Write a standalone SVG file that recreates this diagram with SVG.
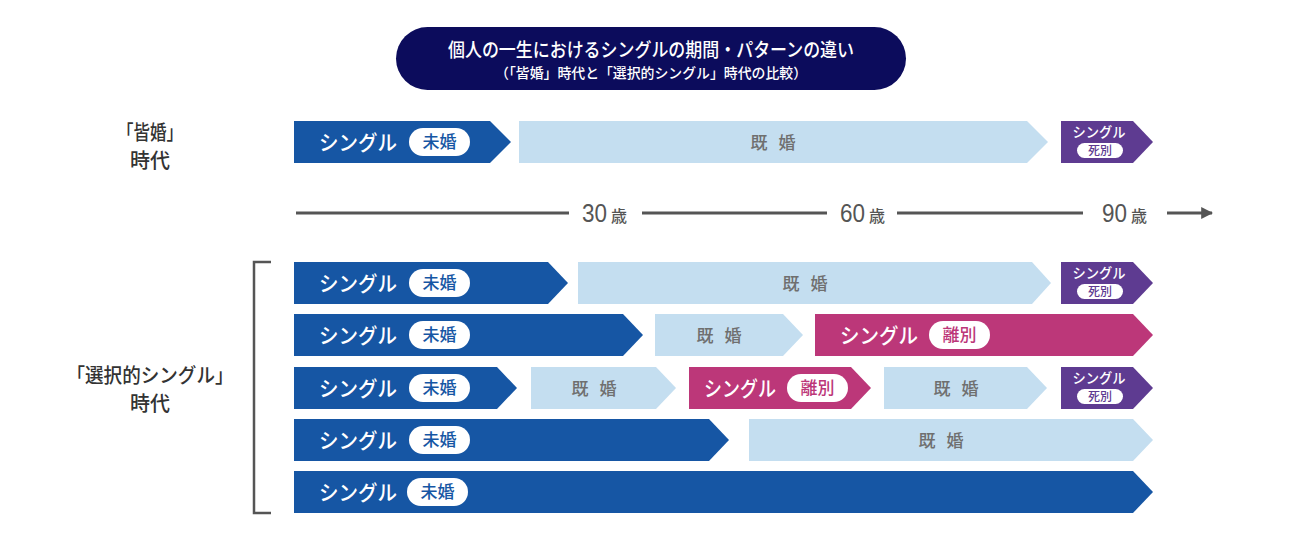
<svg xmlns="http://www.w3.org/2000/svg" width="1300" height="551" viewBox="0 0 1300 551">
<defs>
<style>
text{font-family:"Noto Sans CJK JP","Noto Sans",sans-serif;}
.blue{fill:#1656a4;}
.light{fill:#c4def0;}
.mag{fill:#bc3779;}
.pur{fill:#5e3b91;}
.pill{fill:#ffffff;}
.sg{fill:#ffffff;font-size:21px;font-weight:500;}
.sgs{fill:#ffffff;font-size:14px;font-weight:500;text-anchor:middle;}
.tag{font-size:17px;font-weight:500;text-anchor:middle;}
.tags{font-size:12px;font-weight:500;text-anchor:middle;fill:#5e3b91;}
.kk{fill:#6f6f6f;font-size:17px;font-weight:500;text-anchor:middle;}
.lbl{fill:#333333;font-size:20px;font-weight:500;text-anchor:middle;}
.num{fill:#555555;font-family:"Liberation Sans",Arial,sans-serif;font-size:25px;}
.sai{fill:#555555;font-size:16px;font-weight:500;}
.ax{stroke:#555555;stroke-width:3;fill:none;}
</style>
<marker id="arr" viewBox="0 0 10 10" refX="9" refY="5" markerWidth="4" markerHeight="4" markerUnits="strokeWidth" orient="auto">
<path d="M0,0 L10,5 L0,10 z" fill="#555555"/>
</marker>
</defs>
<rect width="1300" height="551" fill="#ffffff"/>

<g id="title">
<rect x="396" y="27" width="510" height="63" rx="31.5" fill="#0c0c5c"/>
<text x="651" y="57" fill="#ffffff" font-size="19" font-weight="500" text-anchor="middle" textLength="406" lengthAdjust="spacingAndGlyphs">個人の一生におけるシングルの期間・パターンの違い</text>
<text x="651" y="78" fill="#ffffff" font-size="14" font-weight="500" text-anchor="middle" textLength="312" lengthAdjust="spacingAndGlyphs">（「皆婚」時代と「選択的シングル」時代の比較）</text>
</g>

<g id="label-kaikon">
<text class="lbl" x="150" y="140" textLength="66" lengthAdjust="spacingAndGlyphs">「皆婚」</text>
<text class="lbl" x="150" y="168">時代</text>
</g>
<g id="label-sentaku">
<text class="lbl" x="150" y="383" textLength="167" lengthAdjust="spacingAndGlyphs">「選択的シングル」</text>
<text class="lbl" x="150" y="411">時代</text>
<path d="M271,262 H254 V513 H271" fill="none" stroke="#555555" stroke-width="2.5"/>
</g>

<g id="connectors">
<line class="ax" x1="296" y1="213" x2="569" y2="213"/>
<line class="ax" x1="642" y1="213" x2="827" y2="213"/>
<line class="ax" x1="897" y1="213" x2="1083" y2="213"/>
<line class="ax" x1="1167" y1="213" x2="1212" y2="213" marker-end="url(#arr)"/>
</g>
<g id="axis-labels">
<text class="num" x="582" y="222" textLength="25" lengthAdjust="spacingAndGlyphs">30</text><text class="sai" x="611" y="222">歳</text>
<text class="num" x="840" y="222" textLength="25" lengthAdjust="spacingAndGlyphs">60</text><text class="sai" x="869" y="222">歳</text>
<text class="num" x="1102" y="222" textLength="25" lengthAdjust="spacingAndGlyphs">90</text><text class="sai" x="1131" y="222">歳</text>
</g>

<!-- Row 1 -->
<g id="r1-single">
<polygon class="blue" points="294,121 490,121 511,142 490,163 294,163"/>
<text class="sg" x="319" y="150" textLength="78" lengthAdjust="spacingAndGlyphs">シングル</text>
<rect class="pill" x="409" y="128" width="61" height="28" rx="14"/>
<text class="tag" x="439.5" y="148" fill="#1656a4">未婚</text>
</g>
<g id="r1-married">
<polygon class="light" points="519,121 1027,121 1048,142 1027,163 519,163"/>
<text class="kk" x="773" y="149" textLength="45" lengthAdjust="spacing">既 婚</text>
</g>
<g id="r1-bereaved">
<polygon class="pur" points="1061,121 1133,121 1153,142 1133,163 1061,163"/>
<text class="sgs" x="1099" y="137" textLength="53" lengthAdjust="spacingAndGlyphs">シングル</text>
<rect class="pill" x="1077" y="143" width="46" height="15" rx="7.5"/>
<text class="tags" x="1100" y="155">死別</text>
</g>

<!-- Row A -->
<g id="ra-single">
<polygon class="blue" points="294,262 548,262 568,283 548,304 294,304"/>
<text class="sg" x="319" y="291" textLength="78" lengthAdjust="spacingAndGlyphs">シングル</text>
<rect class="pill" x="409" y="269" width="61" height="28" rx="14"/>
<text class="tag" x="439.5" y="289" fill="#1656a4">未婚</text>
</g>
<g id="ra-married">
<polygon class="light" points="578,262 1032,262 1051,283 1032,304 578,304"/>
<text class="kk" x="805" y="290" textLength="45" lengthAdjust="spacing">既 婚</text>
</g>
<g id="ra-bereaved">
<polygon class="pur" points="1061,262 1133,262 1153,283 1133,304 1061,304"/>
<text class="sgs" x="1099" y="278" textLength="53" lengthAdjust="spacingAndGlyphs">シングル</text>
<rect class="pill" x="1077" y="284" width="46" height="15" rx="7.5"/>
<text class="tags" x="1100" y="296">死別</text>
</g>

<!-- Row B -->
<g id="rb-single">
<polygon class="blue" points="294,314 623,314 643,335 623,356 294,356"/>
<text class="sg" x="319" y="343" textLength="78" lengthAdjust="spacingAndGlyphs">シングル</text>
<rect class="pill" x="409" y="321" width="61" height="28" rx="14"/>
<text class="tag" x="439.5" y="341" fill="#1656a4">未婚</text>
</g>
<g id="rb-married">
<polygon class="light" points="655,314 783,314 803,335 783,356 655,356"/>
<text class="kk" x="719" y="342" textLength="45" lengthAdjust="spacing">既 婚</text>
</g>
<g id="rb-divorced">
<polygon class="mag" points="815,314 1133,314 1153,335 1133,356 815,356"/>
<text class="sg" x="840" y="343" textLength="78" lengthAdjust="spacingAndGlyphs">シングル</text>
<rect class="pill" x="929" y="321" width="61" height="28" rx="14"/>
<text class="tag" x="959.5" y="341" fill="#bc3779">離別</text>
</g>

<!-- Row C -->
<g id="rc-single">
<polygon class="blue" points="294,367 497,367 517,388 497,409 294,409"/>
<text class="sg" x="319" y="396" textLength="78" lengthAdjust="spacingAndGlyphs">シングル</text>
<rect class="pill" x="409" y="374" width="61" height="28" rx="14"/>
<text class="tag" x="439.5" y="394" fill="#1656a4">未婚</text>
</g>
<g id="rc-married1">
<polygon class="light" points="531,367 656,367 676,388 656,409 531,409"/>
<text class="kk" x="594" y="395" textLength="45" lengthAdjust="spacing">既 婚</text>
</g>
<g id="rc-divorced">
<polygon class="mag" points="689,367 851,367 871,388 851,409 689,409"/>
<text class="sg" x="704" y="396" textLength="72" lengthAdjust="spacingAndGlyphs">シングル</text>
<rect class="pill" x="787" y="374" width="61" height="28" rx="14"/>
<text class="tag" x="817.5" y="394" fill="#bc3779">離別</text>
</g>
<g id="rc-married2">
<polygon class="light" points="884,367 1027,367 1047,388 1027,409 884,409"/>
<text class="kk" x="956" y="395" textLength="45" lengthAdjust="spacing">既 婚</text>
</g>
<g id="rc-bereaved">
<polygon class="pur" points="1061,367 1133,367 1153,388 1133,409 1061,409"/>
<text class="sgs" x="1099" y="383" textLength="53" lengthAdjust="spacingAndGlyphs">シングル</text>
<rect class="pill" x="1077" y="389" width="46" height="15" rx="7.5"/>
<text class="tags" x="1100" y="401">死別</text>
</g>

<!-- Row D -->
<g id="rd-single">
<polygon class="blue" points="294,419 709,419 729,440 709,461 294,461"/>
<text class="sg" x="319" y="448" textLength="78" lengthAdjust="spacingAndGlyphs">シングル</text>
<rect class="pill" x="409" y="426" width="61" height="28" rx="14"/>
<text class="tag" x="439.5" y="446" fill="#1656a4">未婚</text>
</g>
<g id="rd-married">
<polygon class="light" points="749,419 1133,419 1153,440 1133,461 749,461"/>
<text class="kk" x="941" y="447" textLength="45" lengthAdjust="spacing">既 婚</text>
</g>

<!-- Row E -->
<g id="re-single">
<polygon class="blue" points="294,471 1133,471 1153,492 1133,513 294,513"/>
<text class="sg" x="319" y="500" textLength="78" lengthAdjust="spacingAndGlyphs">シングル</text>
<rect class="pill" x="407" y="478" width="61" height="28" rx="14"/>
<text class="tag" x="437.5" y="498" fill="#1656a4">未婚</text>
</g>
</svg>
